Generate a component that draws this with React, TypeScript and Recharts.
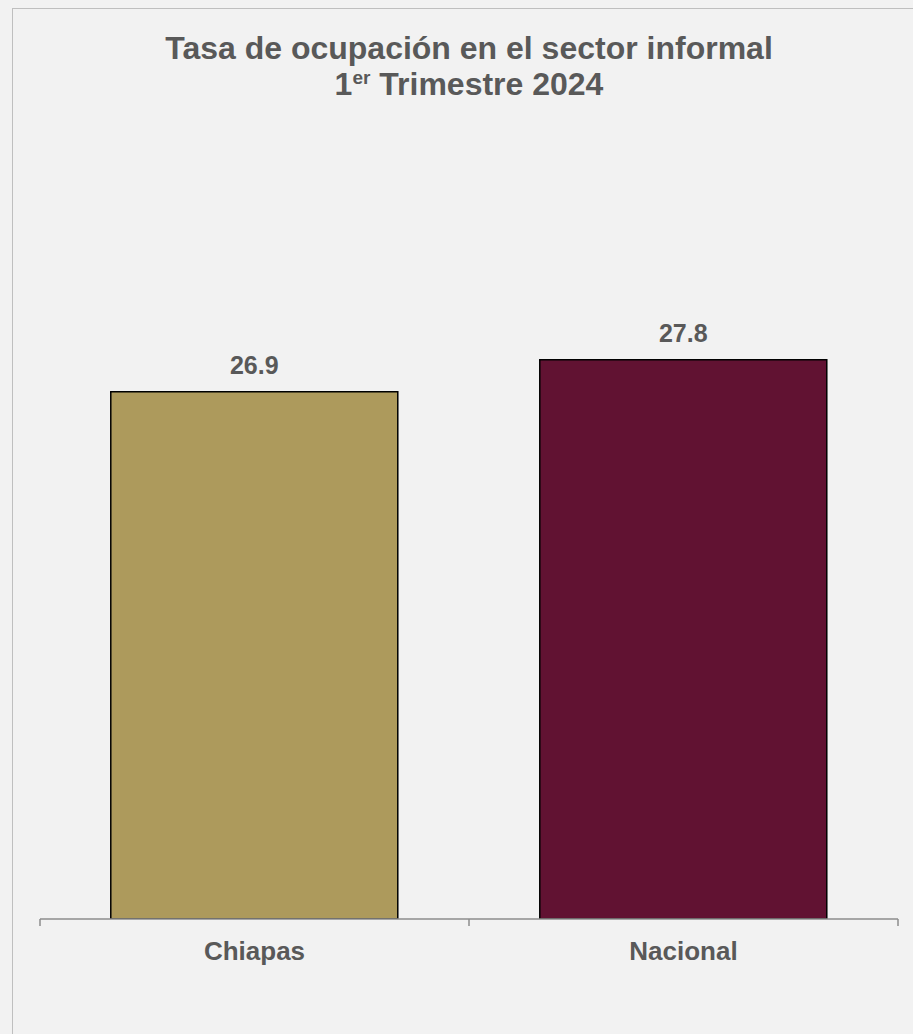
import React from "react";
import { BarChart, Bar, XAxis, YAxis, Cell, LabelList } from "recharts";

const categories = ["Chiapas", "Nacional"];
const values = [26.9, 27.8];
const barColors = ["#AD9A5C", "#611232"];
const titleLine1 = "Tasa de ocupación en el sector informal";
const titleLine2Num = "1";
const titleLine2Sup = "er";
const titleLine2Rest = " Trimestre 2024";

const data = categories.map((name, i) => ({ name, value: values[i] }));

const TEXT = "#595959";
const AXIS = "#8c8c8c";
const FONT = "'Liberation Sans', Arial, sans-serif";
const W = 913;
const H = 1034;
const M = { top: 282, right: 15, bottom: 55, left: 40 };
const BAND = (W - M.left - M.right) / categories.length;

function CategoryTick(props: any) {
  const { x, y, payload, index } = props;
  const axisY = y - 23;
  const isLast = index === categories.length - 1;
  return (
    <g>
      <line x1={x - BAND / 2} x2={x - BAND / 2} y1={axisY} y2={axisY + 7} stroke={AXIS} strokeWidth={1.5} />
      {isLast && (
        <line x1={x + BAND / 2} x2={x + BAND / 2} y1={axisY} y2={axisY + 7} stroke={AXIS} strokeWidth={1.5} />
      )}
      <text x={x} y={y} dy="0.71em" textAnchor="middle" fill={TEXT} fontSize={26} fontWeight="bold" fontFamily={FONT}>
        {payload.value}
      </text>
    </g>
  );
}

export default function App() {
  return (
    <div style={{ position: "relative", width: W, height: H, overflow: "hidden", background: "#f2f2f2", fontFamily: FONT }}>
      <style>{"body{margin:0;overflow:hidden;background:#f2f2f2}"}</style>
      <div
        style={{
          position: "absolute",
          left: 12,
          top: 8,
          width: 960,
          height: 1100,
          border: "1px solid #bfbfbf",
          background: "#f2f2f2",
          boxSizing: "border-box",
        }}
      />
      <div style={{ position: "absolute", left: 0, top: 0 }}>
        <BarChart width={W} height={H} data={data} margin={M} barCategoryGap="16.5%">
          <XAxis
            dataKey="name"
            height={60}
            axisLine={{ stroke: AXIS, strokeWidth: 1.5 }}
            tickLine={false}
            tickSize={7}
            tickMargin={16}
            interval={0}
            tick={<CategoryTick />}
            padding={{ left: 0, right: 0 }}
          />
          <YAxis hide domain={[12, 30]} type="number" allowDataOverflow />
          <Bar dataKey="value" isAnimationActive={false} stroke="#000000" strokeWidth={1.5}>
            {data.map((d, i) => (
              <Cell key={d.name} fill={barColors[i]} />
            ))}
            <LabelList
              dataKey="value"
              position="top"
              offset={18}
              fill={TEXT}
              fontSize={25}
              fontWeight="bold"
              fontFamily={FONT}
              formatter={(v: number) => v.toFixed(1)}
            />
          </Bar>
        </BarChart>
      </div>
      <svg width={W} height={H} style={{ position: "absolute", left: 0, top: 0, pointerEvents: "none" }}>
        <text x={469} y={59} textAnchor="middle" fill={TEXT} fontSize={32} fontWeight="bold" fontFamily={FONT}>
          {titleLine1}
        </text>
        <text x={469} y={95} textAnchor="middle" fill={TEXT} fontSize={32} fontWeight="bold" fontFamily={FONT}>
          <tspan>{titleLine2Num}</tspan>
          <tspan fontSize={19} dy={-11}>{titleLine2Sup}</tspan>
          <tspan dy={11}>{titleLine2Rest}</tspan>
        </text>
      </svg>
    </div>
  );
}
